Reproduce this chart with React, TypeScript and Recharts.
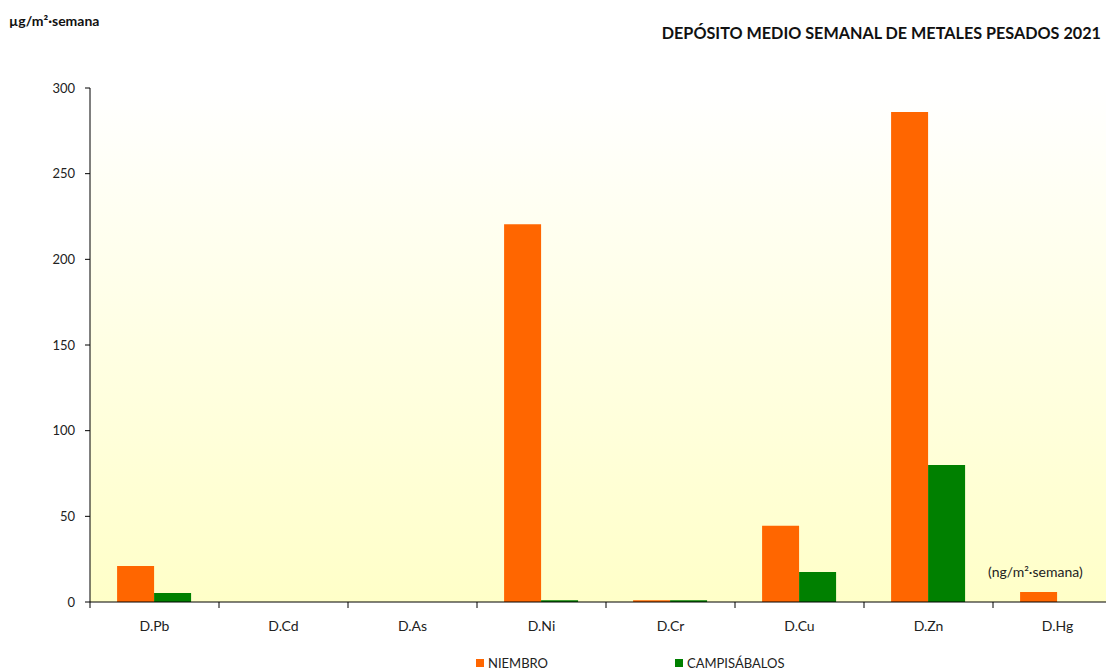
import React from "react";
import { BarChart, Bar, XAxis, YAxis, CartesianGrid, Legend } from "recharts";

const categories = ["D.Pb", "D.Cd", "D.As", "D.Ni", "D.Cr", "D.Cu", "D.Zn", "D.Hg"];
const niembro = [21, 0, 0, 220.5, 1, 44.5, 286, 5.8];
const campisabalos = [5.3, 0, 0, 1, 1, 17.5, 80, 0];
const yTicks = [0, 50, 100, 150, 200, 250, 300];
const seriesNames = ["NIEMBRO", "CAMPISÁBALOS"];
const seriesColors = ["#FF6600", "#008000"];

const data = categories.map((c, i) => ({ name: c, a: niembro[i], b: campisabalos[i] }));

const FONT = "Lato, 'Liberation Sans', sans-serif";

const XTick = (props: any) => {
  const { x, y, payload, index, visibleTicksCount, width } = props;
  const n = visibleTicksCount || categories.length;
  const band = (width || 1032) / n;
  const y0 = y - 8;
  return (
    <g>
      <line x1={x - band / 2} y1={y0} x2={x - band / 2} y2={y0 + 6} stroke="#000" />
      {index === n - 1 && (
        <line x1={x + band / 2} y1={y0} x2={x + band / 2} y2={y0 + 6} stroke="#000" />
      )}
      <text x={x} y={y0 + 29} textAnchor="middle" fontSize={14} fill="#222" fontFamily={FONT}>
        {payload.value}
      </text>
    </g>
  );
};

const LegendContent = () => (
  <div style={{ position: "relative", height: 20, fontFamily: FONT, fontSize: 13, color: "#222" }}>
    {seriesNames.map((s, i) => (
      <div
        key={s}
        style={{ position: "absolute", left: i === 0 ? 476 : 675, top: 13, display: "flex", alignItems: "center" }}
      >
        <span style={{ display: "inline-block", width: 8, height: 8, background: seriesColors[i], marginRight: 4 }} />
        {s}
      </div>
    ))}
  </div>
);

export default function App() {
  return (
    <div style={{ position: "fixed", left: 0, top: 0, width: 1106, height: 671, overflow: "hidden", background: "#fff" }}>
      <div style={{ position: "absolute", left: 0, top: 0 }}>
        <BarChart
          width={1130}
          height={671}
          data={data}
          margin={{ top: 88, right: 8, left: 0, bottom: 0 }}
          barGap={0}
          barCategoryGap="21%"
        >
          <defs>
            <linearGradient id="bgGrad" x1="0" y1="0" x2="0" y2="1">
              <stop offset="0%" stopColor="#FFFFFF" />
              <stop offset="100%" stopColor="#FFFFC8" />
            </linearGradient>
          </defs>
          <CartesianGrid horizontal={false} vertical={false} fill="url(#bgGrad)" />
          <XAxis
            dataKey="name"
            axisLine={{ stroke: "#000" }}
            tickLine={false}
            tick={<XTick />}
            height={40}
            interval={0}
          />
          <YAxis
            domain={[0, 300]}
            ticks={yTicks}
            width={90}
            axisLine={{ stroke: "#000" }}
            tickLine={{ stroke: "#000" }}
            tickSize={5}
            tickMargin={10}
            tick={{ fontSize: 13, fill: "#222", fontFamily: FONT }}
          />
          <Legend verticalAlign="bottom" height={29} content={<LegendContent />} />
          <Bar dataKey="a" name={seriesNames[0]} fill={seriesColors[0]} isAnimationActive={false} />
          <Bar dataKey="b" name={seriesNames[1]} fill={seriesColors[1]} isAnimationActive={false} />
        </BarChart>
      </div>
      <div style={{ position: "absolute", left: 9, top: 12, fontFamily: FONT, fontWeight: 700, fontSize: 14, color: "#111" }}>
        µg/m²·semana
      </div>
      <div style={{ position: "absolute", right: 5, top: 23, fontFamily: FONT, fontWeight: 700, fontSize: 16.2, color: "#111" }}>
        DEPÓSITO MEDIO SEMANAL DE METALES PESADOS 2021
      </div>
      <div style={{ position: "absolute", left: 988, top: 563, fontFamily: FONT, fontSize: 14, color: "#222" }}>
        (ng/m²·semana)
      </div>
    </div>
  );
}
